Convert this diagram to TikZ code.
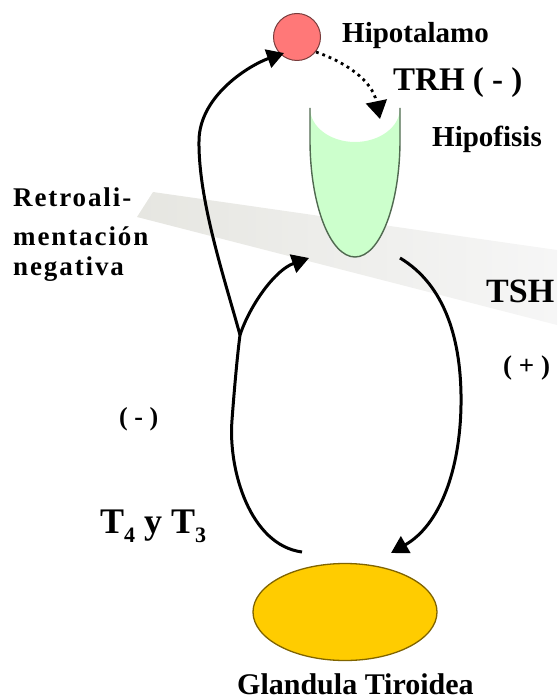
\documentclass[tikz,border=0pt]{standalone}
\usepackage{fontspec}
\setmainfont{Liberation Serif}
\usetikzlibrary{arrows.meta,shapes.geometric}
\definecolor{hipred}{RGB}{255,120,120}
\definecolor{hipline}{RGB}{120,60,60}
\definecolor{cupgreen}{RGB}{204,255,204}
\definecolor{cupline}{RGB}{80,105,80}
\definecolor{thyfill}{RGB}{255,204,0}
\definecolor{thyline}{RGB}{128,100,0}
\definecolor{bandL}{RGB}{230,230,225}
\definecolor{bandR}{RGB}{246,246,246}
\newcommand{\fsz}[1]{\fontsize{#1}{#1}\selectfont}
\begin{document}
\begin{tikzpicture}[x=1pt,y=-1pt,
  lbl/.style={anchor=base west, inner sep=0pt, font=\bfseries},
  arr/.style={line width=3pt, -{Triangle[length=17pt,width=19pt]}},
  dotarr/.style={line width=2.8pt, dash pattern=on 2.8pt off 4pt, -{Triangle[length=18pt,width=21pt]}}]
\useasboundingbox (0,0) rectangle (557,700);
% translucent band
\shade[left color=bandL, right color=bandR] (153,192) -- (557,250) -- (557,325) -- (137,217) -- cycle;
% hypothalamus
\node[circle, draw=hipline, fill=hipred, minimum size=47pt, inner sep=0pt, line width=1pt] (hipot) at (297,37) {};
% hypophysis cup
\fill[cupgreen] (310,108) -- (310,140) .. controls (310,204.6) and (330.2,257) .. (355,257)
  .. controls (379.8,257) and (400,204.6) .. (400,140) -- (400,108)
  .. controls (400,126.8) and (379.8,142) .. (355,142) .. controls (330.2,142) and (310,126.8) .. (310,108) -- cycle;
\draw[cupline, line width=1.4pt] (310,108) -- (310,140) .. controls (310,204.6) and (330.2,257) .. (355,257)
  .. controls (379.8,257) and (400,204.6) .. (400,140) -- (400,108);
\coordinate (hipof) at (355,200);
% thyroid
\node[ellipse, draw=thyline, fill=thyfill, minimum width=184pt, minimum height=97pt, inner sep=0pt, line width=1.3pt] (tiro) at (345,612) {};
% connector coordinates
\coordinate (tA) at (302,552);
\coordinate (branch) at (240,335);
\coordinate (hipIn) at (284,53);
\coordinate (hipOut) at (316,52);
\coordinate (cupTop) at (380,119);
\coordinate (cupIn) at (309,258);
\coordinate (cupOut) at (400,258);
\coordinate (tiroIn) at (391,553);
% feedback loop to hypothalamus
\draw[arr] (tA) .. controls (250,545) and (228,470) .. (232,420) .. controls (235,380) and (238,350) .. (branch)
  .. controls (225,280) and (198,200) .. (199,140) .. controls (200,95) and (250,65) .. (hipIn);
% feedback to hypophysis
\draw[arr] (branch) .. controls (250,305) and (275,270) .. (cupIn);
% TSH
\draw[arr] (cupOut) .. controls (445,285) and (462,340) .. (461,405) .. controls (460,470) and (440,525) .. (tiroIn);
% TRH dotted
\draw[dotarr] (hipOut) .. controls (345,62) and (372,80) .. (cupTop);
% labels
\node[lbl] (tHipot) at (342,43) {\fsz{29}Hipotalamo};
\node[lbl] (tTRH) at (393,91) {\fsz{33}TRH ( - )};
\node[lbl] (tHipof) at (432,147) {\fsz{29}Hipofisis};
\node[lbl] (tR1) at (13,207) {\fsz{27}\addfontfeature{LetterSpace=7}Retroali-};
\node[lbl] (tR2) at (13,246) {\fsz{27}\addfontfeature{LetterSpace=7}mentación};
\node[lbl] (tR3) at (13,275) {\fsz{27}\addfontfeature{LetterSpace=7}negativa};
\node[lbl] (tTSH) at (486,302) {\fsz{34}TSH};
\node[lbl] (tPlus) at (503,374) {\fsz{27}( + )};
\node[lbl] (tMinus) at (119,425) {\fsz{26}( - )};
\node[lbl] (tT) at (100,533) {\fsz{36}T\raisebox{-0.25em}{\fsz{22}4} y T\raisebox{-0.25em}{\fsz{22}3}};
\node[lbl] (tGland) at (237,694) {\fsz{30}Glandula Tiroidea};
\end{tikzpicture}
\end{document}
